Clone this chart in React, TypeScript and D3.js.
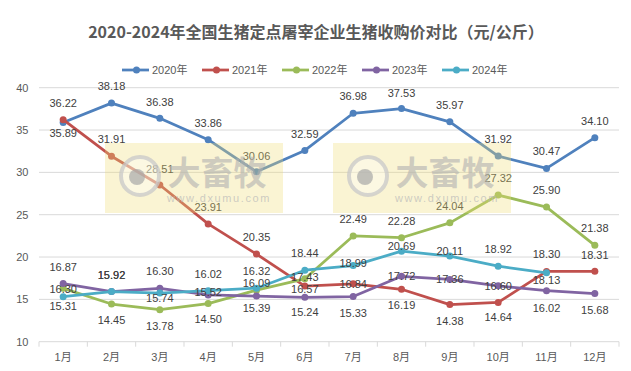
import React from "react";
import * as d3 from "d3";

const months = ["1月","2月","3月","4月","5月","6月","7月","8月","9月","10月","11月","12月"];
const seriesNames = ["2020年","2021年","2022年","2023年","2024年"];
const v2020 = [35.89,38.18,36.38,33.86,30.06,32.59,36.98,37.53,35.97,31.92,30.47,34.10];
const v2021 = [36.22,31.91,28.51,23.91,20.35,16.57,16.84,16.19,14.38,14.64,18.30,18.31];
const v2022 = [16.30,14.45,13.78,14.50,16.09,17.43,22.49,22.28,24.04,27.32,25.90,21.38];
const v2023 = [16.87,15.92,16.30,15.52,15.39,15.24,15.33,17.72,17.36,16.60,16.02,15.68];
const v2024 = [15.31,15.92,15.74,16.02,16.32,18.44,18.99,20.69,20.11,18.92,18.13];
const yTicks = [10,15,20,25,30,35,40];

// label vertical offsets (px, relative to point)
const dy2020 = [11,-17,-16,-17,-16,-16,-17,-16,-17,-17,-17,-17];
const dy2021 = [-17,-17,-16,-17,-17,3,0,16,16,15,-17,-16];
const dy2022 = [1,16,16,15.5,-7,-2,-17,-17,-17,-17,-17,-17];
const dy2023 = [-17,-17,-17,-3,12,15,16,0,0,0,17,16];
const dy2024 = [9,-17,5,-17,-17,-17,-3,-5,-5,-17,7];

const colors = ["#4F81BD","#C0504D","#9BBB59","#8064A2","#4BACC6"];
const W = 631, H = 371;
const numFont = "'Liberation Sans', Arial, 'Noto Sans CJK SC', sans-serif";
const cjkFont = "'Noto Sans CJK SC', 'Liberation Sans', sans-serif";

export default function App() {
  const x = d3.scaleBand<string>().domain(months).range([39, 619]).padding(0);
  const cx = (i: number) => (x(months[i]) as number) + x.bandwidth() / 2;
  const y = d3.scaleLinear().domain([10, 40]).range([341.7, 87.7]);
  const all = [v2020, v2021, v2022, v2023, v2024];
  const dys = [dy2020, dy2021, dy2022, dy2023, dy2024];
  const line = d3.line<number>().x((_, i) => cx(i)).y((d) => y(d));
  const legendX = (i: number) => 122 + i * 80;
  const boxes = [105, 333];

  return (
    <svg width={W} height={H} style={{ position: "absolute", left: 0, top: 0, background: "#fff" }}>
      <rect x={0} y={0} width={W} height={H} fill="#fff" />
      <text x={316} y={38} textAnchor="middle" fontFamily={cjkFont} fontWeight="bold" fontSize={16} fill="#595959">
        2020-2024年全国生猪定点屠宰企业生猪收购价对比（元/公斤）
      </text>
      {/* legend */}
      {seriesNames.map((n, i) => (
        <g key={n}>
          <line x1={legendX(i)} x2={legendX(i) + 27} y1={70} y2={70} stroke={colors[i]} strokeWidth={2.75} />
          <circle cx={legendX(i) + 14.5} cy={70} r={3.5} fill={colors[i]} />
          <text x={legendX(i) + 30} y={74} fontFamily={numFont} fontSize={11} fill="#595959">{n}</text>
        </g>
      ))}
      {/* grid */}
      {yTicks.map((t) => (
        <g key={t}>
          {t > 10 && <line x1={39} x2={619} y1={y(t)} y2={y(t)} stroke="#D9D9D9" strokeWidth={1} />}
          <text x={28.5} y={y(t) + 4} textAnchor="end" fontFamily={numFont} fontSize={11} fill="#595959">{t}</text>
        </g>
      ))}
      <line x1={39} x2={619} y1={y(10)} y2={y(10)} stroke="#D9D9D9" strokeWidth={1} />
      {d3.range(13).map((i) => {
        const xx = 39 + i * x.bandwidth();
        return <line key={i} x1={xx} x2={xx} y1={y(10)} y2={y(10) + 5} stroke="#D9D9D9" strokeWidth={1} />;
      })}
      {months.map((m, i) => (
        <text key={m} x={cx(i)} y={361} textAnchor="middle" fontFamily={numFont} fontSize={11} fill="#595959">{m}</text>
      ))}
      {/* series */}
      {all.map((vals, s) => (
        <g key={s}>
          <path d={line(vals) as string} fill="none" stroke={colors[s]} strokeWidth={2.75} strokeLinejoin="round" />
          {vals.map((v, i) => (
            <circle key={i} cx={cx(i)} cy={y(v)} r={3.5} fill={colors[s]} />
          ))}
        </g>
      ))}
      {all.map((vals, s) => (
        <g key={"l" + s}>
          {vals.map((v, i) => (
            <text key={i} x={cx(i)} y={y(v) + dys[s][i] + 4} textAnchor="middle" fontFamily={numFont} fontSize={11} fill="#404040">
              {v.toFixed(2)}
            </text>
          ))}
        </g>
      ))}
      {/* watermark */}
      {boxes.map((bx, k) => (
        <g key={"w" + k}>
          <rect x={bx} y={143} width={178} height={70} fill="#EEDD77" fillOpacity={0.32} />
          <circle cx={bx + 35} cy={176} r={19} fill="#ffffff" fillOpacity={0.35} stroke="#C8C8C8" strokeOpacity={0.75} strokeWidth={4} />
          <circle cx={bx + 32} cy={177} r={8} fill="#A8A8A8" fillOpacity={0.7} />
          <text x={bx + 112} y={185} textAnchor="middle" fontFamily={cjkFont} fontWeight="bold" fontSize={33} fill="#B0B0B0" fillOpacity={0.6}>大畜牧</text>
          <text x={bx + 114} y={202} textAnchor="middle" fontFamily={numFont} fontSize={11} letterSpacing={1.6} fill="#B8B8B8" fillOpacity={0.7}>www.dxumu.com</text>
        </g>
      ))}
    </svg>
  );
}
